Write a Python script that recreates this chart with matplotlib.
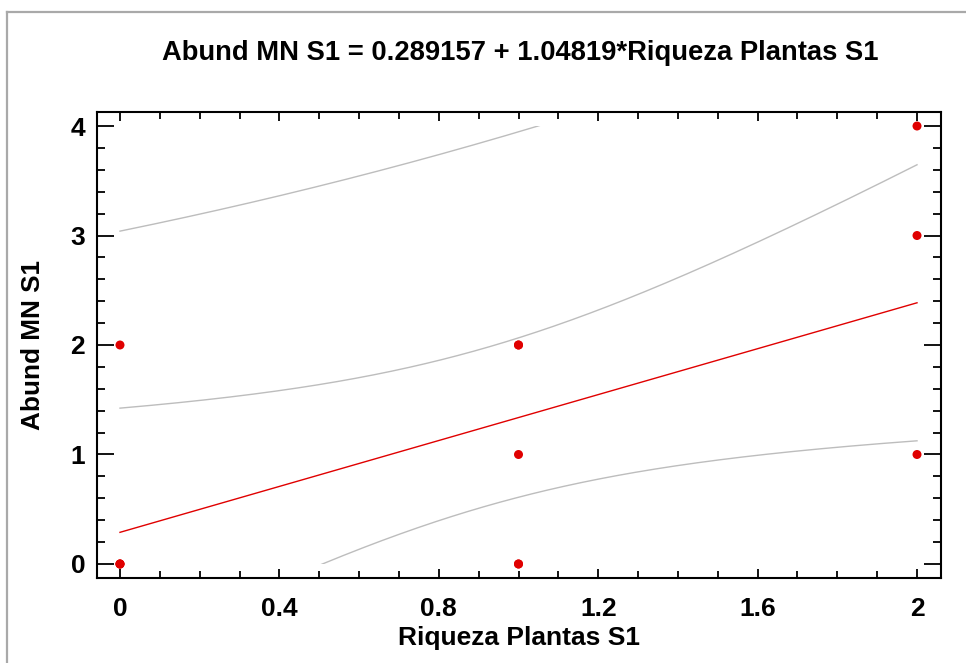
import numpy as np
import matplotlib
matplotlib.use("Agg")
import matplotlib.pyplot as plt
from matplotlib.patches import Rectangle
from matplotlib.lines import Line2D
from matplotlib.ticker import MultipleLocator, FixedLocator, FixedFormatter

# Data (duplicates consistent with fitted equation)
riqueza = [0, 0, 0, 0, 1, 1, 1, 1, 1, 2, 2, 2]
abund = [0, 0, 0, 2, 0, 0, 1, 2, 2, 1, 3, 4]
x_ticks = [0, 0.4, 0.8, 1.2, 1.6, 2]
x_tick_labels = ["0", "0.4", "0.8", "1.2", "1.6", "2"]
y_ticks = [0, 1, 2, 3, 4]
y_tick_labels = ["0", "1", "2", "3", "4"]
title = "Abund MN S1 = 0.289157 + 1.04819*Riqueza Plantas S1"
t_975_10 = 2.228139  # Student t, 95% two-sided, 10 df

plt.rcParams['font.family'] = ['Liberation Sans', 'DejaVu Sans']
plt.rcParams['font.weight'] = 'bold'

x = np.array(riqueza, float)
y = np.array(abund, float)
n = len(x)
b, a = np.polyfit(x, y, 1)
resid = y - (a + b * x)
s = np.sqrt(np.sum(resid ** 2) / (n - 2))
xm = x.mean()
sxx = np.sum((x - xm) ** 2)
xs = np.linspace(0, 2, 400)
fit = a + b * xs
conf = t_975_10 * s * np.sqrt(1 / n + (xs - xm) ** 2 / sxx)
pred = t_975_10 * s * np.sqrt(1 + 1 / n + (xs - xm) ** 2 / sxx)

fig = plt.figure(figsize=(9.66, 6.63), dpi=100)
ax = fig.add_axes([97 / 966, 1 - 578 / 663, (941 - 97) / 966, (578 - 112) / 663])

clip = Rectangle((-0.1, 0), 2.3, 4, transform=ax.transData, visible=False)
ax.add_patch(clip)

gray = '#bdbdbd'
for yy in [fit + conf, fit - conf, fit + pred, fit - pred]:
    ln, = ax.plot(xs, yy, color=gray, lw=1.0, zorder=2)
    ln.set_clip_path(clip)
ln, = ax.plot(xs, fit, color='#e00000', lw=1.0, zorder=3)
ln.set_clip_path(clip)

ax.scatter(x, y, s=42, color='#e00000', edgecolors='none', zorder=4, clip_on=False)

ax.set_xlim(-0.0577, 2.0602)
ax.set_ylim(-0.128, 4.128)

ax.xaxis.set_major_locator(FixedLocator(x_ticks))
ax.xaxis.set_major_formatter(FixedFormatter(x_tick_labels))
ax.xaxis.set_minor_locator(MultipleLocator(0.1))
ax.yaxis.set_major_locator(FixedLocator(y_ticks))
ax.yaxis.set_major_formatter(FixedFormatter(y_tick_labels))
ax.yaxis.set_minor_locator(MultipleLocator(0.2))

ax.tick_params(axis='both', which='both', direction='in', top=True, right=True,
               colors='black', width=1.3)
ax.tick_params(axis='x', which='major', length=6.5, pad=14, labelsize=19)
ax.tick_params(axis='x', which='minor', length=5)
ax.tick_params(axis='y', which='major', length=12, pad=8.5, labelsize=19)
ax.tick_params(axis='y', which='minor', length=6)
for lab in ax.get_xticklabels() + ax.get_yticklabels():
    lab.set_fontweight('bold')

for sp in ax.spines.values():
    sp.set_linewidth(1.5)
    sp.set_color('black')

ax.set_xlabel("Riqueza Plantas S1", fontsize=19, fontweight='bold')
ax.set_ylabel("Abund MN S1", fontsize=18.8, fontweight='bold')
ax.xaxis.set_label_coords(0.5, (578 - 626) / 466)
ax.yaxis.set_label_coords((45 - 97) / 844, 0.5)
fig.text(520 / 966, 1 - 53 / 663, title, ha='center', va='center',
         fontsize=19.7, fontweight='bold')

# outer gray frame
fig.add_artist(Line2D([7 / 966, 1.0], [1 - 11.5 / 663] * 2, color='#a9a9a9', lw=1.6,
                      transform=fig.transFigure))
fig.add_artist(Line2D([7 / 966] * 2, [0, 1 - 11.5 / 663], color='#a9a9a9', lw=1.6,
                      transform=fig.transFigure))

fig.savefig("out.png", dpi=100)
